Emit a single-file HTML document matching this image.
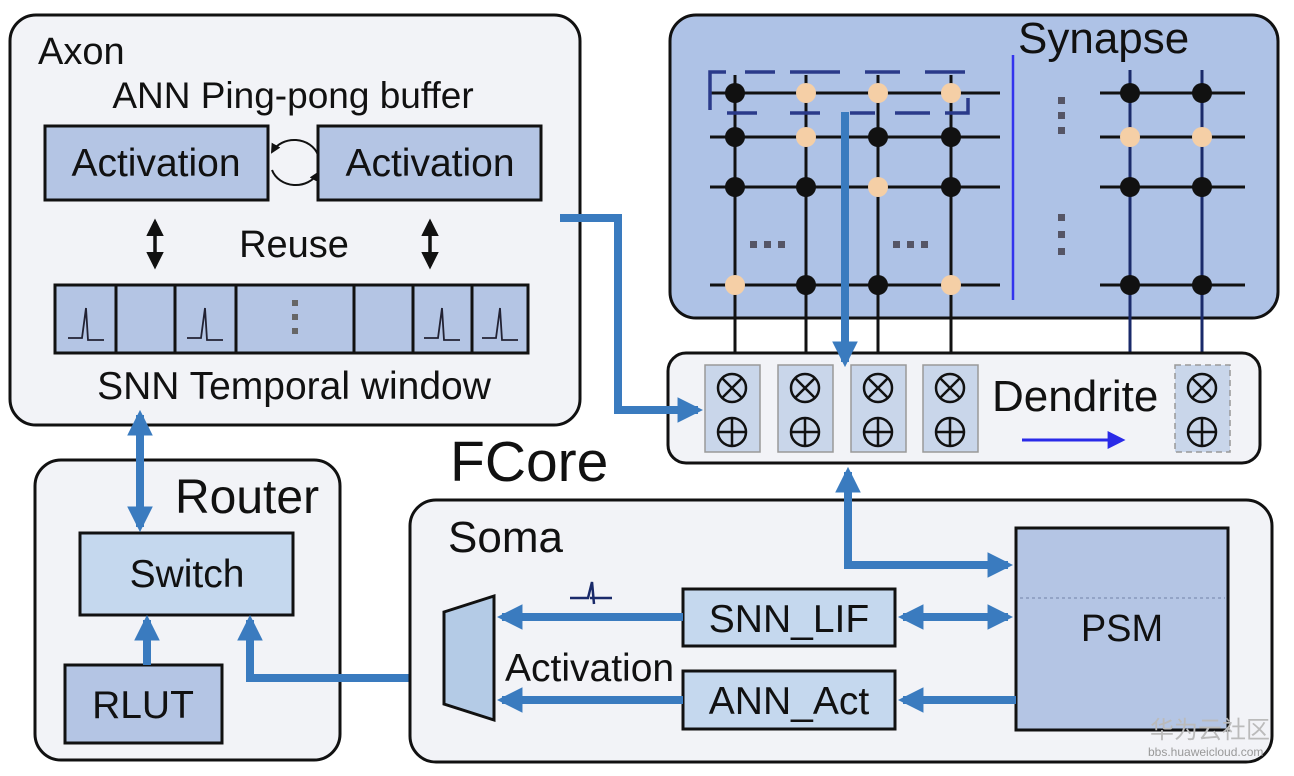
<!DOCTYPE html>
<html><head><meta charset="utf-8"><style>
html,body{margin:0;padding:0;background:#fff;}
svg{display:block;font-family:"Liberation Sans",Arial,sans-serif;}
</style></head><body>
<svg width="1294" height="776" viewBox="0 0 1294 776" xmlns="http://www.w3.org/2000/svg">
<defs>
<marker id="ah" viewBox="0 0 10 10" refX="8" refY="5" markerWidth="3.2" markerHeight="3.2" orient="auto-start-reverse"><path d="M0,0 L10,5 L0,10 z" fill="#3a7bbf"/></marker>
<marker id="bh" viewBox="0 0 10 10" refX="8" refY="5" markerWidth="5" markerHeight="5" orient="auto-start-reverse"><path d="M0,0 L10,5 L0,10 z" fill="#111"/></marker>
<marker id="nh" viewBox="0 0 10 10" refX="8" refY="5" markerWidth="6" markerHeight="6" orient="auto"><path d="M0,0 L10,5 L0,10 z" fill="#2a2ae8"/></marker>
</defs>
<rect width="1294" height="776" fill="#fff"/>

<!-- Axon -->
<rect x="10" y="15" width="570" height="410" rx="26" fill="#f2f3f7" stroke="#111" stroke-width="3"/>
<text x="38" y="64" font-size="38" fill="#111">Axon</text>
<text x="293" y="108" font-size="37" fill="#111" text-anchor="middle">ANN Ping-pong buffer</text>
<rect x="45" y="126" width="223" height="74" fill="#b4c5e4" stroke="#111" stroke-width="3"/>
<rect x="318" y="126" width="223" height="74" fill="#b4c5e4" stroke="#111" stroke-width="3"/>
<text x="156" y="176" font-size="39" fill="#111" text-anchor="middle">Activation</text>
<text x="430" y="176" font-size="39" fill="#111" text-anchor="middle">Activation</text>
<path d="M318,155 A25,22 0 0 0 272,152" fill="none" stroke="#111" stroke-width="2" marker-end="url(#bh)"/>
<path d="M272,170 A25,22 0 0 0 318,173" fill="none" stroke="#111" stroke-width="2" marker-end="url(#bh)"/>
<line x1="155" y1="222" x2="155" y2="266" stroke="#111" stroke-width="3.5" marker-start="url(#bh)" marker-end="url(#bh)"/>
<line x1="430" y1="222" x2="430" y2="266" stroke="#111" stroke-width="3.5" marker-start="url(#bh)" marker-end="url(#bh)"/>
<text x="294" y="257" font-size="38" fill="#111" text-anchor="middle">Reuse</text>
<rect x="55" y="285" width="473" height="68" fill="#b4c5e4" stroke="#111" stroke-width="3"/>
<g stroke="#111" stroke-width="3">
<line x1="116" y1="285" x2="116" y2="353"/><line x1="175" y1="285" x2="175" y2="353"/>
<line x1="236" y1="285" x2="236" y2="353"/><line x1="354" y1="285" x2="354" y2="353"/>
<line x1="413" y1="285" x2="413" y2="353"/><line x1="472" y1="285" x2="472" y2="353"/>
</g>
<g fill="none" stroke="#223" stroke-width="1.8">
<path d="M68,338 H82 L86,308 L88,340 H104"/>
<path d="M187,338 H201 L205,308 L207,340 H223"/>
<path d="M424,338 H438 L442,308 L444,340 H460"/>
<path d="M482,338 H496 L500,308 L502,340 H518"/>
</g>
<g fill="#666"><rect x="292" y="300" width="6" height="6"/><rect x="292" y="314" width="6" height="6"/><rect x="292" y="328" width="6" height="6"/></g>
<text x="294" y="399" font-size="39" fill="#111" text-anchor="middle">SNN Temporal window</text>

<!-- Synapse -->
<rect x="670" y="15" width="608" height="303" rx="26" fill="#aec2e6" stroke="#111" stroke-width="3"/>
<text x="1018" y="53" font-size="44" fill="#111">Synapse</text>
<line x1="1013" y1="55" x2="1013" y2="300" stroke="#3333ee" stroke-width="2.5"/>
<g stroke="#111" stroke-width="3">
<line x1="710" y1="93" x2="1000" y2="93"/><line x1="710" y1="137" x2="1000" y2="137"/>
<line x1="710" y1="187" x2="1000" y2="187"/><line x1="710" y1="285" x2="1000" y2="285"/>
<line x1="735" y1="75" x2="735" y2="365"/><line x1="806" y1="75" x2="806" y2="365"/>
<line x1="878" y1="75" x2="878" y2="365"/><line x1="951" y1="75" x2="951" y2="365"/>
<line x1="1100" y1="93" x2="1245" y2="93"/><line x1="1100" y1="137" x2="1245" y2="137"/>
<line x1="1100" y1="187" x2="1245" y2="187"/><line x1="1100" y1="285" x2="1245" y2="285"/>
</g>
<g stroke="#1a2a6a" stroke-width="3">
<line x1="1130" y1="70" x2="1130" y2="365"/><line x1="1202" y1="70" x2="1202" y2="365"/>
</g>
<g stroke="#2a3a8a" stroke-width="3.5" fill="none">
<path d="M710,110 V72 H726"/><path d="M745,72 H775"/><path d="M790,72 H840"/><path d="M865,72 H900"/><path d="M925,72 H965"/>
<path d="M727,113 H757"/><path d="M790,113 H820"/><path d="M850,113 H875"/><path d="M895,113 H930"/><path d="M945,113 H968 V98"/>
</g>
<g fill="#111">
<circle cx="735" cy="93" r="10"/><circle cx="735" cy="137" r="10"/><circle cx="878" cy="137" r="10"/><circle cx="951" cy="137" r="10"/>
<circle cx="735" cy="187" r="10"/><circle cx="806" cy="187" r="10"/><circle cx="951" cy="187" r="10"/>
<circle cx="806" cy="285" r="10"/><circle cx="878" cy="285" r="10"/>
<circle cx="1130" cy="93" r="10"/><circle cx="1202" cy="93" r="10"/>
<circle cx="1130" cy="187" r="10"/><circle cx="1202" cy="187" r="10"/>
<circle cx="1130" cy="285" r="10"/><circle cx="1202" cy="285" r="10"/>
</g>
<g fill="#f5cfa6">
<circle cx="806" cy="93" r="10"/><circle cx="878" cy="93" r="10"/><circle cx="951" cy="93" r="10"/>
<circle cx="806" cy="137" r="10"/><circle cx="878" cy="187" r="10"/>
<circle cx="735" cy="285" r="10"/><circle cx="951" cy="285" r="10"/>
<circle cx="1130" cy="137" r="10"/><circle cx="1202" cy="137" r="10"/>
</g>
<g fill="#556">
<rect x="750" y="241" width="7" height="7"/><rect x="764" y="241" width="7" height="7"/><rect x="778" y="241" width="7" height="7"/>
<rect x="893" y="241" width="7" height="7"/><rect x="907" y="241" width="7" height="7"/><rect x="921" y="241" width="7" height="7"/>
<rect x="1058" y="97" width="7" height="7"/><rect x="1058" y="112" width="7" height="7"/><rect x="1058" y="127" width="7" height="7"/>
<rect x="1058" y="214" width="7" height="7"/><rect x="1058" y="231" width="7" height="7"/><rect x="1058" y="248" width="7" height="7"/>
</g>

<!-- Dendrite -->
<rect x="668" y="353" width="592" height="110" rx="18" fill="#f2f3f7" stroke="#111" stroke-width="3"/>
<g fill="#c9d6ea" stroke="#999" stroke-width="1.5">
<rect x="705" y="365" width="55" height="87"/><rect x="778" y="365" width="55" height="87"/>
<rect x="851" y="365" width="55" height="87"/><rect x="923" y="365" width="55" height="87"/>
<rect x="1175" y="365" width="55" height="87" stroke-dasharray="6,4"/>
</g>
<g fill="none" stroke="#111" stroke-width="2.5">
<g id="u"><circle cx="732" cy="388" r="14"/><path d="M722,378 L742,398 M742,378 L722,398"/><circle cx="732" cy="432" r="14"/><path d="M718,432 H746 M732,418 V446"/></g>
<use href="#u" x="73"/><use href="#u" x="146"/><use href="#u" x="218"/><use href="#u" x="470"/>
</g>
<text x="992" y="411" font-size="44" fill="#111">Dendrite</text>
<line x1="1022" y1="440" x2="1122" y2="440" stroke="#2a2ae8" stroke-width="3" marker-end="url(#nh)"/>

<!-- synapse down arrow -->
<line x1="845" y1="112" x2="845" y2="362" stroke="#3a7bbf" stroke-width="8" marker-end="url(#ah)"/>
<!-- axon to dendrite -->
<path d="M560,218 H618 V410 H698" fill="none" stroke="#3a7bbf" stroke-width="8" marker-end="url(#ah)"/>

<!-- FCore -->
<text x="450" y="481" font-size="57" fill="#111">FCore</text>

<!-- Router -->
<rect x="35" y="460" width="305" height="300" rx="26" fill="#f2f3f7" stroke="#111" stroke-width="3"/>
<text x="175" y="513" font-size="48" fill="#111">Router</text>
<rect x="80" y="533" width="213" height="82" fill="#c5d8ee" stroke="#111" stroke-width="3"/>
<text x="187" y="587" font-size="39" fill="#111" text-anchor="middle">Switch</text>
<rect x="65" y="665" width="157" height="78" fill="#b4c5e4" stroke="#111" stroke-width="3"/>
<text x="143" y="718" font-size="39" fill="#111" text-anchor="middle">RLUT</text>
<line x1="140" y1="415" x2="140" y2="527" stroke="#3a7bbf" stroke-width="8" marker-start="url(#ah)" marker-end="url(#ah)"/>
<line x1="147" y1="665" x2="147" y2="620" stroke="#3a7bbf" stroke-width="8" marker-end="url(#ah)"/>
<path d="M445,678 H250 V620" fill="none" stroke="#3a7bbf" stroke-width="8" marker-end="url(#ah)"/>

<!-- Soma -->
<rect x="410" y="500" width="862" height="262" rx="26" fill="#f2f3f7" stroke="#111" stroke-width="3"/>
<text x="448" y="552" font-size="44" fill="#111">Soma</text>
<polygon points="444,612 494,596 494,720 444,704" fill="#b4cbe6" stroke="#111" stroke-width="3"/>
<path d="M570,598 H588 L592,582 L594,604 M590,598 H612" fill="none" stroke="#1a2a6a" stroke-width="2.5"/>
<rect x="683" y="589" width="212" height="57" fill="#c5d8ee" stroke="#111" stroke-width="3"/>
<text x="789" y="632" font-size="39" fill="#111" text-anchor="middle">SNN_LIF</text>
<rect x="683" y="671" width="212" height="58" fill="#c5d8ee" stroke="#111" stroke-width="3"/>
<text x="789" y="714" font-size="39" fill="#111" text-anchor="middle">ANN_Act</text>
<text x="505" y="681" font-size="39" fill="#111">Activation</text>
<line x1="683" y1="617" x2="502" y2="617" stroke="#3a7bbf" stroke-width="8" marker-end="url(#ah)"/>
<line x1="683" y1="700" x2="502" y2="700" stroke="#3a7bbf" stroke-width="8" marker-end="url(#ah)"/>
<rect x="1016" y="528" width="212" height="202" fill="#b4c5e4" stroke="#111" stroke-width="3"/>
<line x1="1020" y1="598" x2="1225" y2="598" stroke="#8899bb" stroke-width="1.5" stroke-dasharray="3,3"/>
<text x="1122" y="641" font-size="38" fill="#111" text-anchor="middle">PSM</text>
<line x1="903" y1="617" x2="1008" y2="617" stroke="#3a7bbf" stroke-width="8" marker-start="url(#ah)" marker-end="url(#ah)"/>
<line x1="1016" y1="700" x2="903" y2="700" stroke="#3a7bbf" stroke-width="8" marker-end="url(#ah)"/>
<path d="M848,472 V565 H1008" fill="none" stroke="#3a7bbf" stroke-width="8" marker-start="url(#ah)" marker-end="url(#ah)"/>

<!-- watermark -->
<text x="1150" y="738" font-size="24" fill="#bbb" font-family="'Liberation Sans','Noto Sans CJK SC',sans-serif">华为云社区</text>
<text x="1148" y="756" font-size="12" fill="#999">bbs.huaweicloud.com</text>
</svg>
</body></html>
